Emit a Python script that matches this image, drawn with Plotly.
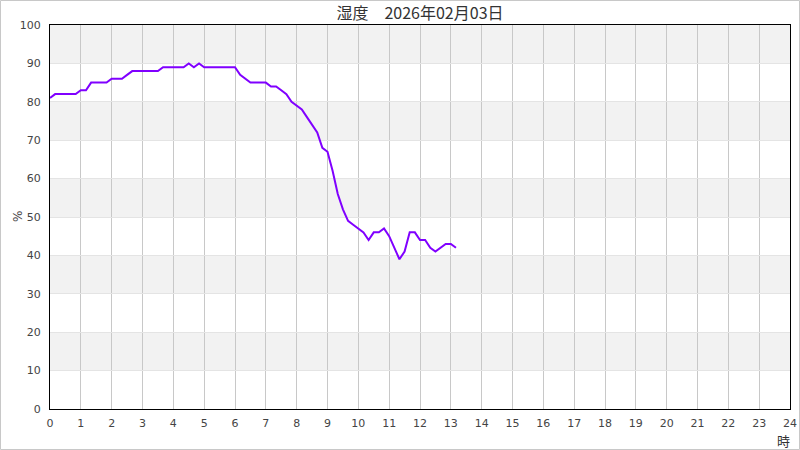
import plotly.graph_objects as go

# 湿度 (%), 10分ごとの測定値 00:00 - 13:10
humidity = [
    81, 82, 82, 82, 82, 82, 83, 83, 85, 85,
    85, 85, 86, 86, 86, 87, 88, 88, 88, 88,
    88, 88, 89, 89, 89, 89, 89, 90, 89, 90,
    89, 89, 89, 89, 89, 89, 89, 87, 86, 85,
    85, 85, 85, 84, 84, 83, 82, 80, 79, 78,
    76, 74, 72, 68, 67, 62, 56, 52, 49, 48,
    47, 46, 44, 46, 46, 47, 45, 42, 39, 41,
    46, 46, 44, 44, 42, 41, 42, 43, 43, 42,
]
step_minutes = 10
hours = [i * step_minutes / 60 for i in range(len(humidity))]

x_ticks = list(range(0, 25))
y_ticks = list(range(0, 101, 10))
title_text = "湿度　2026年02月03日"

W, H = 800, 450
L, R, T, B = 50, 10, 25, 41
pw, ph = W - L - R, H - T - B

fig = go.Figure()
fig.add_trace(go.Scatter(
    x=hours, y=humidity, mode="lines",
    line=dict(color="#8000ff", width=2),
    hoverinfo="x+y", showlegend=False,
))

# alternating grey bands
shapes = []
for lo in range(10, 100, 20):
    shapes.append(dict(type="rect", xref="paper", yref="y", x0=0, x1=1,
                       y0=lo, y1=lo + 10, fillcolor="#f2f2f2",
                       line=dict(width=0), layer="below"))
# outer frame of the image
shapes.append(dict(type="rect", xref="paper", yref="paper",
                   x0=(0.5 - L) / pw, x1=(W - 0.5 - L) / pw,
                   y0=(T + ph - (H - 0.5)) / ph, y1=(T + ph - 0.5) / ph,
                   line=dict(color="#c8c8c8", width=1)))

fig.update_layout(
    width=W, height=H,
    margin=dict(l=L, r=R, t=T, b=B),
    paper_bgcolor="white", plot_bgcolor="white",
    font=dict(family="DejaVu Sans", size=11, color="#444"),
    title=dict(text=title_text, x=0.5, xref="paper", y=1 - 13 / H, yanchor="middle",
               font=dict(family="Noto Sans CJK JP", size=16, color="#333")),
    shapes=shapes,
    annotations=[
        dict(text="時", xref="paper", yref="paper", x=(783 - L) / pw, y=-(440 - T - ph) / ph,
             xanchor="center", yanchor="middle",
             showarrow=False, font=dict(family="Noto Sans CJK JP", size=13, color="#333")),
        dict(text="%", xref="paper", yref="paper", x=(18 - L) / pw, y=0.5, textangle=-90,
             xanchor="center", yanchor="middle",
             showarrow=False, font=dict(family="DejaVu Sans", size=12, color="#444")),
    ],
)
fig.update_xaxes(range=[0, 24], tickvals=x_ticks, ticktext=[str(v) for v in x_ticks],
                 showgrid=True, gridcolor="#c8c8c8", gridwidth=1,
                 showline=True, linecolor="black", linewidth=1, mirror=True,
                 ticks="outside", ticklen=4, tickcolor="rgba(0,0,0,0)",
                 zeroline=False, fixedrange=True, automargin=False)
fig.update_yaxes(range=[0, 100], tickvals=y_ticks,
                 showgrid=True, gridcolor="#e4e4e4", gridwidth=1,
                 showline=True, linecolor="black", linewidth=1, mirror=True,
                 ticks="outside", ticklen=6, tickcolor="rgba(0,0,0,0)",
                 zeroline=False, fixedrange=True, automargin=False)

fig.write_html("out.html", config={"displayModeBar": False},
               post_script="document.body.style.margin='0';")
